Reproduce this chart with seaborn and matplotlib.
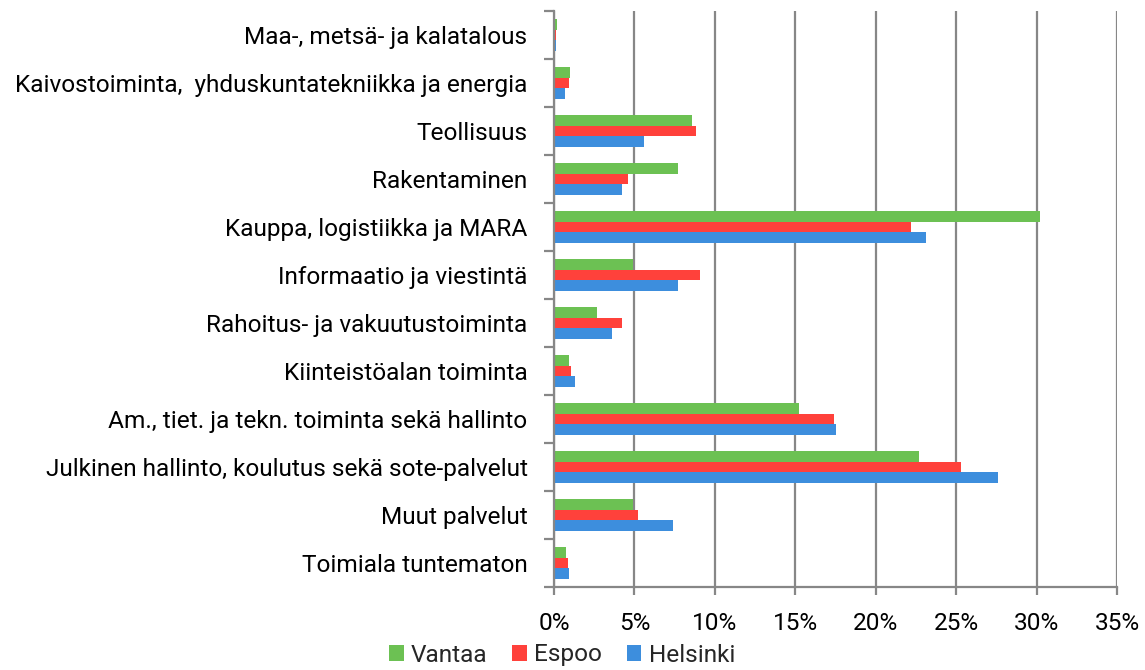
import numpy as np
import pandas as pd
import matplotlib
matplotlib.use("Agg")
import matplotlib.pyplot as plt
from matplotlib.ticker import FuncFormatter, MultipleLocator
import seaborn as sns

# toimialat (ylhäältä alas)
categories = [
    "Maa-, metsä- ja kalatalous",
    "Kaivostoiminta,  yhduskuntatekniikka ja energia",
    "Teollisuus",
    "Rakentaminen",
    "Kauppa, logistiikka ja MARA",
    "Informaatio ja viestintä",
    "Rahoitus- ja vakuutustoiminta",
    "Kiinteistöalan toiminta",
    "Am., tiet. ja tekn. toiminta sekä hallinto",
    "Julkinen hallinto, koulutus sekä sote-palvelut",
    "Muut palvelut",
    "Toimiala tuntematon",
]
cities = ["Vantaa", "Espoo", "Helsinki"]

# osuudet (%)
vantaa = [0.2, 1.0, 8.6, 7.7, 30.2, 4.9, 2.7, 0.95, 15.2, 22.7, 4.9, 0.75]
espoo = [0.1, 0.95, 8.8, 4.6, 22.2, 9.1, 4.25, 1.05, 17.4, 25.3, 5.25, 0.9]
helsinki = [0.1, 0.7, 5.6, 4.2, 23.1, 7.7, 3.6, 1.3, 17.5, 27.6, 7.4, 0.95]

colors = ["#6CC153", "#FF413B", "#3D8EDD"]

df = pd.DataFrame({
    "toimiala": categories * 3,
    "kaupunki": np.repeat(cities, len(categories)),
    "osuus": vantaa + espoo + helsinki,
})

sns.set_style("white")
plt.rcParams["font.family"] = ["Roboto", "DejaVu Sans"]

fig = plt.figure(figsize=(11.45, 6.7), dpi=100)
ax = fig.add_axes([554 / 1145, 1 - 587 / 670, (1117 - 554) / 1145, (587 - 11) / 670])

sns.barplot(data=df, y="toimiala", x="osuus", hue="kaupunki", order=categories,
            hue_order=cities, palette=colors, orient="h", width=0.67,
            saturation=1, linewidth=0, errorbar=None, ax=ax)

grey = "#878787"
ax.set_xlim(0, 35)
ax.xaxis.set_major_locator(MultipleLocator(5))
ax.xaxis.set_major_formatter(FuncFormatter(lambda v, p: f"{v:.0f}%"))
ax.grid(axis="x", color=grey, linewidth=1.6)
ax.set_axisbelow(True)
for s in ["top", "right"]:
    ax.spines[s].set_visible(False)
for s in ["left", "bottom"]:
    ax.spines[s].set_color(grey)
    ax.spines[s].set_linewidth(1.6)

ax.set_yticks(np.arange(-0.5, len(categories), 1), minor=True)
ax.tick_params(axis="y", which="major", length=0, pad=19, labelsize=17.6, colors="black")
ax.tick_params(axis="y", which="minor", length=7, width=1.6, color=grey, direction="out", left=True)
ax.tick_params(axis="x", which="major", length=6, width=1.6, color=grey, direction="out",
               bottom=True, pad=12, labelsize=17.6, labelcolor="black")
ax.set_xlabel("")
ax.set_ylabel("")

handles, labels = ax.get_legend_handles_labels()
ax.legend(handles, labels, loc="center", bbox_to_anchor=(562 / 1145, 1 - 655 / 670),
          bbox_transform=fig.transFigure, ncol=3, frameon=False, fontsize=17.6,
          handlelength=0.6, handleheight=0.6, handletextpad=0.3, columnspacing=1.0,
          borderaxespad=0)

fig.savefig("out.png", dpi=100)
